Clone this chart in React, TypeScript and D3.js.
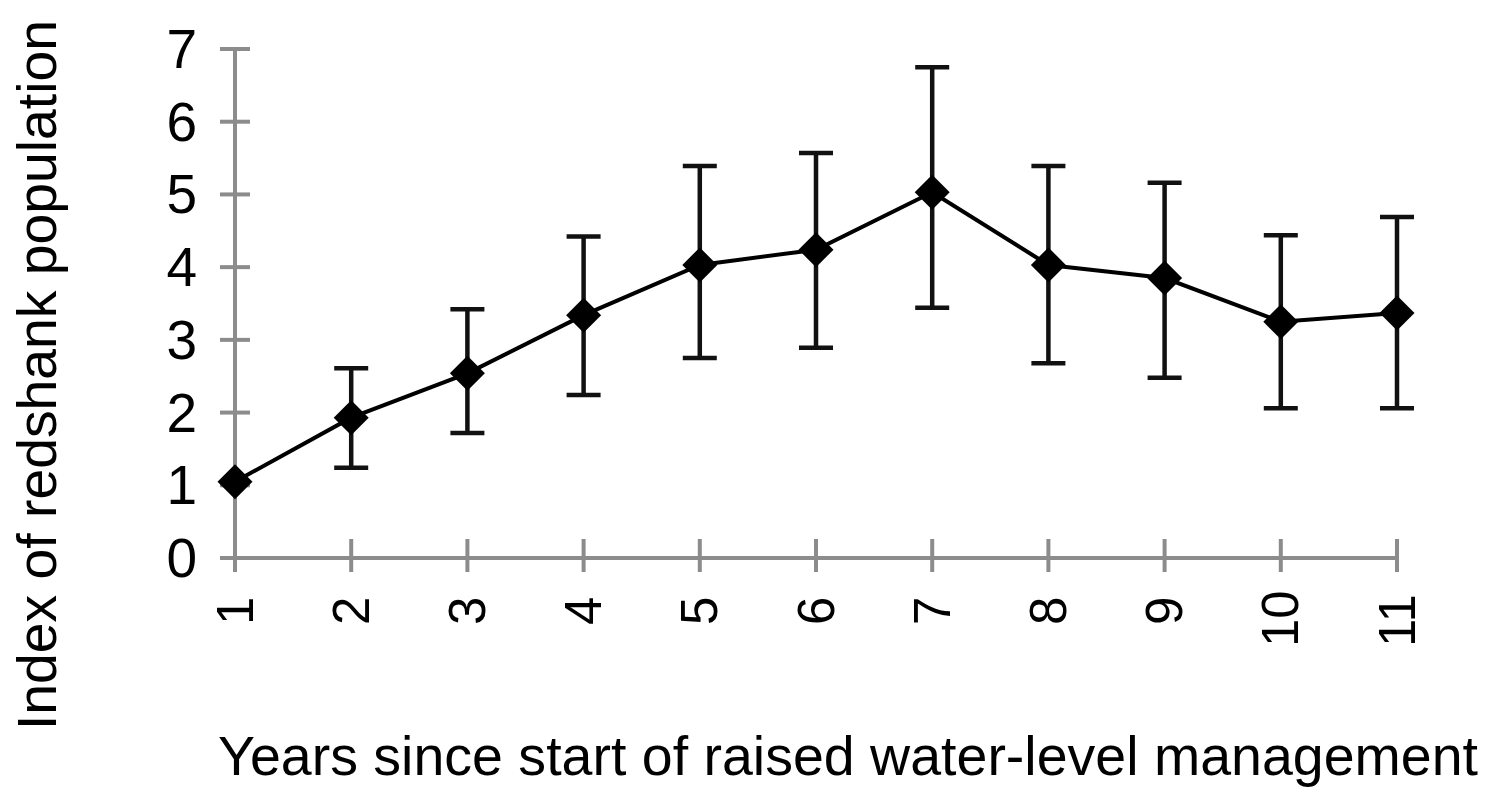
import React from "react";
import * as d3 from "d3";

const years = [1, 2, 3, 4, 5, 6, 7, 8, 9, 10, 11];
const means = [1.05, 1.93, 2.54, 3.34, 4.03, 4.24, 5.03, 4.03, 3.85, 3.25, 3.37];
const upper = [1.05, 2.61, 3.42, 4.42, 5.39, 5.57, 6.75, 5.39, 5.16, 4.44, 4.69];
const lower = [1.05, 1.24, 1.72, 2.24, 2.75, 2.89, 3.44, 2.68, 2.48, 2.06, 2.06];
const yTicks = [0, 1, 2, 3, 4, 5, 6, 7];
const xTitle = "Years since start of raised water-level management";
const yTitle = "Index of redshank population";

const W = 1492;
const H = 787;

export default function App() {
  const x = d3.scaleLinear().domain([1, 11]).range([235, 1397]);
  const y = d3.scaleLinear().domain([0, 7]).range([558, 49]);
  const line = d3
    .line<number>()
    .x((_, i) => x(years[i]))
    .y((d) => y(d));
  const axisColor = "#8c8c8c";
  const font = "'Liberation Sans', Arial, sans-serif";
  const cap = 17;
  const dr = 17.5;

  return (
    <svg
      width={W}
      height={H}
      style={{ position: "absolute", left: 0, top: 0, background: "#fff" }}
      fontFamily={font}
    >
      {/* axes */}
      <line x1={x(1)} x2={x(1)} y1={y(7)} y2={572} stroke={axisColor} strokeWidth={4} />
      <line x1={220} x2={x(11)} y1={y(0)} y2={y(0)} stroke={axisColor} strokeWidth={4} />
      {yTicks.map((t) => (
        <g key={"yt" + t}>
          <line x1={220} x2={250} y1={y(t)} y2={y(t)} stroke={axisColor} strokeWidth={4} />
          <text
            x={197}
            y={y(t)}
            textAnchor="end"
            dominantBaseline="central"
            fontSize={55}
            fill="#000"
          >
            {t}
          </text>
        </g>
      ))}
      {years.map((v) => (
        <g key={"xt" + v}>
          <line x1={x(v)} x2={x(v)} y1={539} y2={572} stroke={axisColor} strokeWidth={4} />
          <text
            transform={`translate(${x(v)},${v >= 10 ? 647 : 625}) rotate(-90)`}
            textAnchor="start"
            dominantBaseline="central"
            fontSize={51}
            fill="#000"
          >
            {v}
          </text>
        </g>
      ))}
      {/* error bars */}
      {years.map((v, i) =>
        upper[i] - lower[i] > 0.01 ? (
          <g key={"eb" + v} stroke="#111" strokeWidth={4.5}>
            <line x1={x(v)} x2={x(v)} y1={y(upper[i])} y2={y(lower[i])} />
            <line x1={x(v) - cap} x2={x(v) + cap} y1={y(upper[i])} y2={y(upper[i])} />
            <line x1={x(v) - cap} x2={x(v) + cap} y1={y(lower[i])} y2={y(lower[i])} />
          </g>
        ) : null
      )}
      {/* line */}
      <path d={line(means) || ""} fill="none" stroke="#000" strokeWidth={4} />
      {/* markers */}
      {years.map((v, i) => {
        const cx = x(v);
        const cy = y(means[i]);
        return (
          <path
            key={"m" + v}
            d={`M${cx},${cy - dr}L${cx + dr},${cy}L${cx},${cy + dr}L${cx - dr},${cy}Z`}
            fill="#000"
          />
        );
      })}
      {/* titles */}
      <text
        transform={`translate(56,375) rotate(-90)`}
        textAnchor="middle"
        fontSize={56}
        textLength={710}
        lengthAdjust="spacingAndGlyphs"
        fill="#000"
      >
        {yTitle}
      </text>
      <text
        x={218}
        y={775}
        fontSize={56}
        textLength={1260}
        lengthAdjust="spacingAndGlyphs"
        fill="#000"
      >
        {xTitle}
      </text>
    </svg>
  );
}
